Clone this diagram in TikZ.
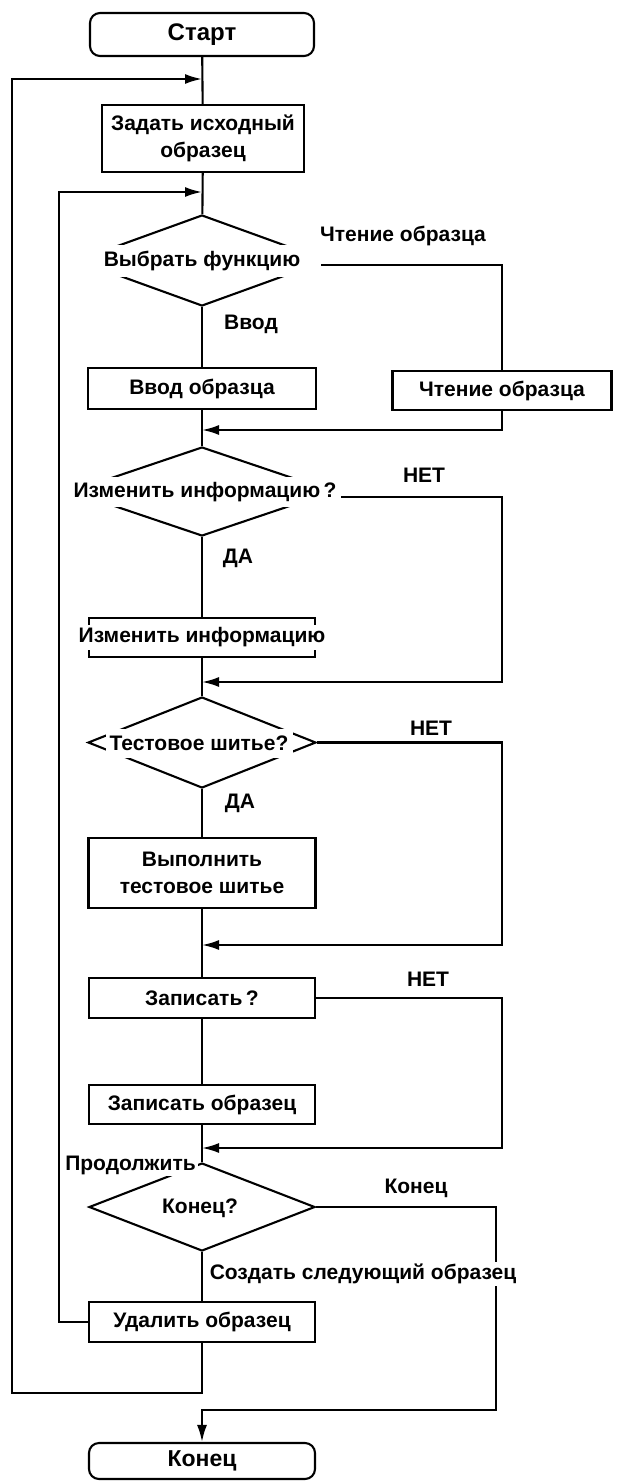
\documentclass[tikz,border=0pt]{standalone}
\usepackage{fontspec}
\setmainfont{Liberation Sans}
\usetikzlibrary{arrows.meta,shapes.geometric}
\begin{document}
\begin{tikzpicture}[x=1pt,y=-1pt,
  line width=2.1pt,
  txt/.style={font=\bfseries\fontsize{21}{27}\selectfont, inner sep=0pt},
  box/.style={draw, txt, minimum width=226pt, minimum height=40pt, align=center},
  term/.style={box, rounded corners=10pt},
  dia/.style={draw, diamond, inner sep=0pt},
  band/.style={txt, fill=white},
  lbl/.style={txt, fill=white, inner sep=2pt},
  arr/.style={-{Latex[length=17pt,width=10pt]}}
]
\fill[white] (0,0) rectangle (620,1481);
\useasboundingbox (0,0) rectangle (620,1481);

% axis and side coordinates
\coordinate (j0) at (202,79);
\coordinate (j1) at (202,192);
\coordinate (j2) at (202,430);
\coordinate (j3) at (202,682);
\coordinate (j4) at (202,945);
\coordinate (j5) at (202,1148);
\coordinate (rx) at (502,0);
\coordinate (rx2) at (496,0);
\coordinate (lx1) at (59,0);
\coordinate (lx0) at (12,0);
\coordinate (k) at (202,1410);
\coordinate (m) at (202,1393);

% nodes
\node[term, minimum width=224pt, minimum height=43pt, font=\bfseries\fontsize{24}{28}\selectfont] (start) at (202,34.5) {Старт};
\node[box, minimum width=202pt, minimum height=67pt] (b1) at (203,138.5) {Задать исходный\\образец};

\node[dia, minimum width=250pt, minimum height=91pt] (d1) at (202,260.5) {};
\node[band, minimum width=264pt, minimum height=32pt] (d1t) at (202,261) {Выбрать функцию};

\node[box, minimum width=228pt, minimum height=41pt] (b2) at (202,388.5) {Ввод образца};
\node[box, minimum width=219pt, minimum height=39pt] (b3) at (502,390.5) {Чтение образца};

\node[dia, minimum width=262pt, minimum height=89pt] (d2) at (202,491.5) {};
\node[band, minimum width=284pt, minimum height=30pt] (d2t) at (205,492) {Изменить информацию\,?};

\node[draw, minimum width=226pt, minimum height=39pt] (b4) at (202,637.5) {};
\node[band, minimum width=250pt, minimum height=25pt] (b4t) at (202,637.5) {Изменить информацию};

\node[dia, minimum width=228pt, minimum height=91pt] (d3) at (202,742.5) {};
\node[band, minimum width=187pt, minimum height=29pt] (d3t) at (199,743) {Тестовое шитье?};

\node[box, minimum width=227pt, minimum height=70pt] (b5) at (202,873) {Выполнить\\тестовое шитье};
\node[box, minimum width=226pt, minimum height=40pt] (b6) at (202,998) {Записать\,?};
\node[box, minimum width=226pt, minimum height=39pt] (b7) at (202,1104.5) {Записать образец};

\node[dia, minimum width=226pt, minimum height=88pt] (d4) at (202,1207) {};
\node[txt] (d4t) at (200,1208) {Конец?};

\node[box, minimum width=226pt, minimum height=40pt] (b8) at (202,1322) {Удалить образец};
\node[term, minimum width=226pt, minimum height=36pt, font=\bfseries\fontsize{23}{27}\selectfont] (end) at (202,1461) {Конец};

% main axis
\draw (start) -- (b1);
\draw (b1) -- (d1);
\draw (d1) -- (b2);
\draw (b2) -- (d2);
\draw (d2) -- (b4);
\draw (b4) -- (d3);
\draw (d3) -- (b5);
\draw (b5) -- (b6);
\draw (b6) -- (b7);
\draw (b7) -- (d4);
\draw (d4) -- (b8);

% branches
\draw ([xshift=-14pt,yshift=-4pt]d1t.east) -| (b3.north);
\draw[arr] (b3.south) |- (j2);
\draw[arr] ([xshift=-7pt,yshift=-5pt]d2t.east) -- ([yshift=-5pt]d2t.east -| rx) -- (rx |- j3) -- (j3);
\draw[arr] (d3.east) -- (d3.east -| rx) -- (rx |- j4) -- (j4);
\draw[arr] (b6.east) -- (b6.east -| rx) -- (rx |- j5) -- (j5);
\draw[arr] (d4.east) -- (d4.east -| rx2) -- (rx2 |- k) -- (k) -- (end.north);
\draw[arr] (b8.west) -- (b8.west -| lx1) -- (lx1 |- j1) -- (j1);
\draw[arr] (b8.south) -- (m) -- (m -| lx0) -- (lx0 |- j0) -- (j0);

% labels
\node[txt] (l1) at (403,236) {Чтение образца};
\node[txt] (l2) at (251,324) {Ввод};
\node[txt] (l3) at (424,475) {НЕТ};
\node[txt] (l4) at (238,558) {ДА};
\node[txt] (l5) at (431,728) {НЕТ};
\node[txt] (l6) at (240,803) {ДА};
\node[txt] (l7) at (428,979) {НЕТ};
\node[lbl] (l8) at (130.5,1165) {Продолжить};
\node[txt] (l9) at (416,1188) {Конец};
\node[lbl] (l10) at (363,1274) {Создать следующий образец};
\end{tikzpicture}
\end{document}
